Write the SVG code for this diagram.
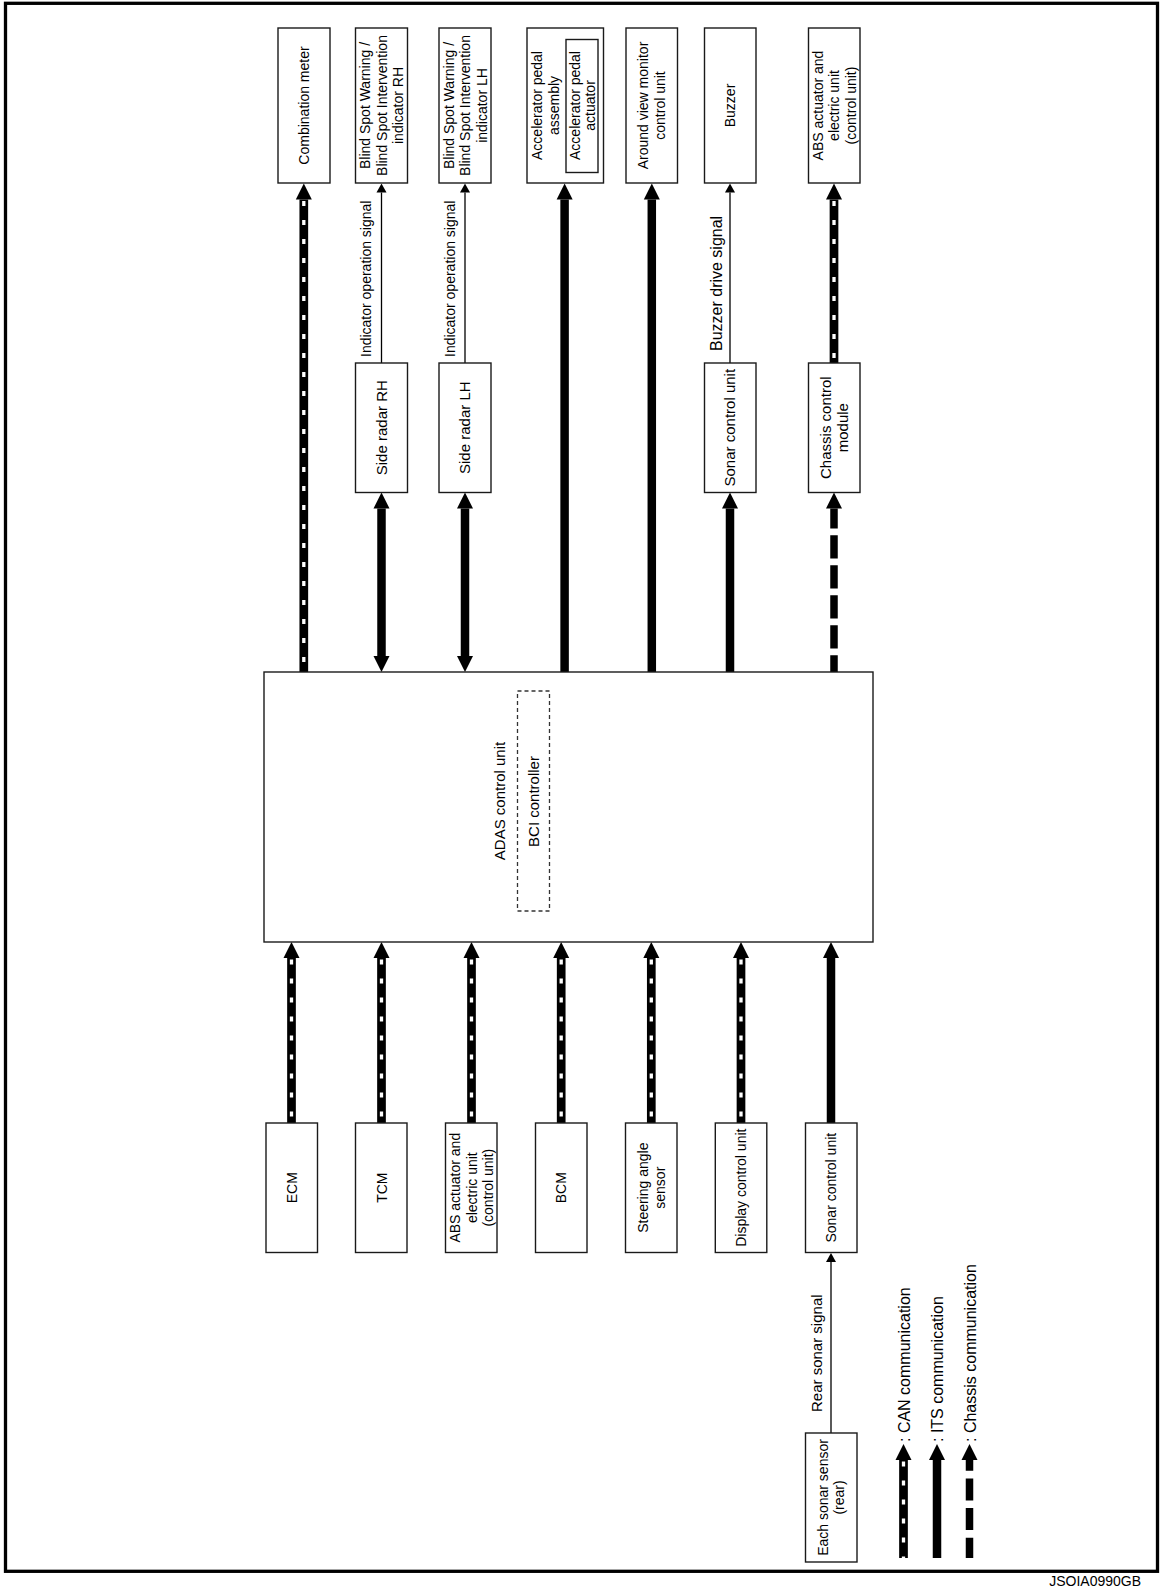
<svg xmlns="http://www.w3.org/2000/svg" width="1161" height="1591" viewBox="0 0 1161 1591">
<style>
.box{fill:#fff;stroke:#1a1a1a;stroke-width:1.4}
.dbox{fill:none;stroke:#333;stroke-width:1.3;stroke-dasharray:4 3}
.t{font-family:"Liberation Sans",Arial,sans-serif;font-size:14px;fill:#000;text-anchor:middle}
.m{font-size:15px}
.l{font-family:"Liberation Sans",Arial,sans-serif;font-size:14px;fill:#000;text-anchor:start}
.lg{font-family:"Liberation Sans",Arial,sans-serif;font-size:16px;fill:#000;text-anchor:start}
.its{stroke:#000;stroke-width:8.5;fill:none;marker-end:url(#hd)}
.itsd{stroke:#000;stroke-width:8.5;fill:none;marker-end:url(#hd);marker-start:url(#hds)}
.can{stroke:#000;stroke-width:8.7;fill:none;marker-end:url(#hd)}
.canw{stroke:#fff;stroke-width:3.3;fill:none;stroke-dasharray:5 14;stroke-dashoffset:17.5}
.ch{stroke:#000;stroke-width:7.5;fill:none;stroke-dasharray:23.3 6.7;stroke-dashoffset:3.3}
.thin{stroke:#000;stroke-width:1.3;fill:none;marker-end:url(#ht)}
</style>
<defs>
<marker id="hd" markerUnits="userSpaceOnUse" markerWidth="17" markerHeight="17" refX="0" refY="8" orient="auto" overflow="visible"><path d="M0,0 L16,8 L0,16 Z" fill="#000"/></marker>
<marker id="hds" markerUnits="userSpaceOnUse" markerWidth="17" markerHeight="17" refX="0" refY="8" orient="auto-start-reverse" overflow="visible"><path d="M0,0 L16,8 L0,16 Z" fill="#000"/></marker>
<marker id="ht" markerUnits="userSpaceOnUse" markerWidth="10" markerHeight="11" refX="0" refY="5" orient="auto" overflow="visible"><path d="M0,0 L9,5 L0,10 Z" fill="#000"/></marker>
</defs>
<rect x="5.5" y="3.3" width="1152" height="1568" fill="none" stroke="#000" stroke-width="3.3"/>

<g id="connectors">
<path class="can" d="M303.8,672 V199.5"/><path class="canw" d="M303.8,199.5 V672"/>
<path class="thin" d="M381.5,363 V192.5"/>
<path class="itsd" d="M381.5,508.5 V656"/>
<path class="thin" d="M465,363 V192.5"/>
<path class="itsd" d="M465,508.5 V656"/>
<path class="its" d="M564.6,672 V199.5"/>
<path class="its" d="M651.8,672 V199.5"/>
<path class="thin" d="M730,363 V192.5"/>
<path class="its" d="M730,672 V508.5"/>
<path class="can" d="M834,363 V199.5"/><path class="canw" d="M834,199.5 V363"/>
<path class="ch" d="M834,508.5 V672"/>
<path d="M826,508.5 L834,492.5 L842,508.5 Z" fill="#000"/>
<path class="can" d="M291.5,1123 V958"/><path class="canw" d="M291.5,958 V1123"/>
<path class="can" d="M381.5,1123 V958"/><path class="canw" d="M381.5,958 V1123"/>
<path class="can" d="M471.5,1123 V958"/><path class="canw" d="M471.5,958 V1123"/>
<path class="can" d="M561.2,1123 V958"/><path class="canw" d="M561.2,958 V1123"/>
<path class="can" d="M651.3,1123 V958"/><path class="canw" d="M651.3,958 V1123"/>
<path class="can" d="M741,1123 V958"/><path class="canw" d="M741,958 V1123"/>
<path class="its" d="M831,1123 V958"/>
<path class="thin" d="M831,1433 V1262"/>
<path class="can" d="M903.5,1558 V1460"/><path class="canw" d="M903.5,1460 V1558"/>
<path class="its" d="M937,1558 V1460"/>
<path class="ch" style="stroke-dasharray:22 7.7;stroke-dashoffset:11.3" d="M969.5,1460 V1558"/>
<path d="M961.5,1460 L969.5,1444 L977.5,1460 Z" fill="#000"/>
</g>

<g id="labels">
<text class="l" transform="translate(371,357) rotate(-90)">Indicator operation signal</text>
<text class="l" transform="translate(455,357) rotate(-90)">Indicator operation signal</text>
<text class="l" style="font-size:16px" transform="translate(722,351) rotate(-90)">Buzzer drive signal</text>
<text class="l" style="font-size:15px" transform="translate(821.5,1412) rotate(-90)">Rear sonar signal</text>
</g>

<g id="n-combination-meter">
<rect class="box" x="278" y="28" width="52" height="155"/>
<text class="t" transform="translate(304,105.5) rotate(-90)"><tspan x="0" y="5">Combination meter</tspan></text>
</g>
<g id="n-bsw-rh">
<rect class="box" x="355.5" y="28" width="52" height="155"/>
<text class="t" transform="translate(381.5,105.5) rotate(-90)"><tspan x="0" y="-11.5">Blind Spot Warning /</tspan><tspan x="0" y="5">Blind Spot Intervention</tspan><tspan x="0" y="21.5">indicator RH</tspan></text>
</g>
<g id="n-bsw-lh">
<rect class="box" x="439" y="28" width="52" height="155"/>
<text class="t" transform="translate(465,105.5) rotate(-90)"><tspan x="0" y="-11.5">Blind Spot Warning /</tspan><tspan x="0" y="5">Blind Spot Intervention</tspan><tspan x="0" y="21.5">indicator LH</tspan></text>
</g>
<g id="n-accel-pedal">
<rect class="box" x="527" y="28" width="76.5" height="155"/>
<text class="t" transform="translate(546,105.5) rotate(-90)"><tspan x="0" y="-4">Accelerator pedal</tspan><tspan x="0" y="13">assembly</tspan></text>
<rect class="box" x="566" y="39.5" width="32" height="133"/>
<text class="t" transform="translate(582,105.5) rotate(-90)"><tspan x="0" y="-2">Accelerator pedal</tspan><tspan x="0" y="12.5">actuator</tspan></text>
</g>
<g id="n-around-view">
<rect class="box" x="626" y="28" width="51.5" height="155"/>
<text class="t" transform="translate(651.5,105.5) rotate(-90)"><tspan x="0" y="-3.25">Around view monitor</tspan><tspan x="0" y="13.25">control unit</tspan></text>
</g>
<g id="n-buzzer">
<rect class="box" x="704.5" y="28" width="51.5" height="155"/>
<text class="t" transform="translate(730,105.5) rotate(-90)"><tspan x="0" y="5">Buzzer</tspan></text>
</g>
<g id="n-abs-top">
<rect class="box" x="808.5" y="28" width="51.5" height="155"/>
<text class="t" transform="translate(834,105.5) rotate(-90)"><tspan x="0" y="-11.5">ABS actuator and</tspan><tspan x="0" y="5">electric unit</tspan><tspan x="0" y="21.5">(control unit)</tspan></text>
</g>

<g id="n-side-radar-rh">
<rect class="box" x="355.5" y="363" width="52" height="129.5"/>
<text class="t m" transform="translate(381.5,427.7) rotate(-90)"><tspan x="0" y="5.3">Side radar RH</tspan></text>
</g>
<g id="n-side-radar-lh">
<rect class="box" x="439" y="363" width="52" height="129.5"/>
<text class="t m" transform="translate(465,427.7) rotate(-90)"><tspan x="0" y="5.3">Side radar LH</tspan></text>
</g>
<g id="n-sonar-top">
<rect class="box" x="704.5" y="363" width="51.5" height="129.5"/>
<text class="t m" transform="translate(730,427.7) rotate(-90)"><tspan x="0" y="5.3">Sonar control unit</tspan></text>
</g>
<g id="n-chassis">
<rect class="box" x="808.5" y="363" width="51.5" height="129.5"/>
<text class="t m" transform="translate(834,427.7) rotate(-90)"><tspan x="0" y="-3.5">Chassis control</tspan><tspan x="0" y="13.5">module</tspan></text>
</g>

<g id="n-adas">
<rect class="box" x="264" y="672" width="609" height="270"/>
<text class="t m" transform="translate(500,801) rotate(-90)"><tspan x="0" y="5.3">ADAS control unit</tspan></text>
<rect class="dbox" x="517.5" y="691" width="32" height="220"/>
<text class="t m" transform="translate(534,801.5) rotate(-90)"><tspan x="0" y="5.3">BCI controller</tspan></text>
</g>

<g id="n-ecm">
<rect class="box" x="266" y="1123" width="51.5" height="129.5"/>
<text class="t" transform="translate(291.5,1187.7) rotate(-90)"><tspan x="0" y="5">ECM</tspan></text>
</g>
<g id="n-tcm">
<rect class="box" x="355.5" y="1123" width="51.5" height="129.5"/>
<text class="t" transform="translate(381.5,1187.7) rotate(-90)"><tspan x="0" y="5">TCM</tspan></text>
</g>
<g id="n-abs-bottom">
<rect class="box" x="445.5" y="1123" width="51.5" height="129.5"/>
<text class="t" transform="translate(471.5,1187.7) rotate(-90)"><tspan x="0" y="-11.5">ABS actuator and</tspan><tspan x="0" y="5">electric unit</tspan><tspan x="0" y="21.5">(control unit)</tspan></text>
</g>
<g id="n-bcm">
<rect class="box" x="535.5" y="1123" width="51.5" height="129.5"/>
<text class="t" transform="translate(561.2,1187.7) rotate(-90)"><tspan x="0" y="5">BCM</tspan></text>
</g>
<g id="n-steering">
<rect class="box" x="625.5" y="1123" width="51.5" height="129.5"/>
<text class="t" transform="translate(651.3,1187.7) rotate(-90)"><tspan x="0" y="-3.25">Steering angle</tspan><tspan x="0" y="13.25">sensor</tspan></text>
</g>
<g id="n-display">
<rect class="box" x="715.3" y="1123" width="51.5" height="129.5"/>
<text class="t" transform="translate(741,1187.7) rotate(-90)"><tspan x="0" y="5">Display control unit</tspan></text>
</g>
<g id="n-sonar-bottom">
<rect class="box" x="805.5" y="1123" width="51.5" height="129.5"/>
<text class="t" transform="translate(831,1187.7) rotate(-90)"><tspan x="0" y="5">Sonar control unit</tspan></text>
</g>
<g id="n-each-sonar">
<rect class="box" x="805.5" y="1433" width="51.5" height="129"/>
<text class="t" transform="translate(831,1497.5) rotate(-90)"><tspan x="0" y="-3.25">Each sonar sensor</tspan><tspan x="0" y="13.25">(rear)</tspan></text>
</g>

<g id="legend">
<text class="lg" transform="translate(909.5,1442) rotate(-90)">: CAN communication</text>
<text class="lg" transform="translate(943,1442) rotate(-90)">: ITS communication</text>
<text class="lg" transform="translate(975.5,1442) rotate(-90)">: Chassis communication</text>
</g>
<text x="1141" y="1586" font-family="Liberation Sans, Arial, sans-serif" font-size="14" text-anchor="end">JSOIA0990GB</text>
</svg>
